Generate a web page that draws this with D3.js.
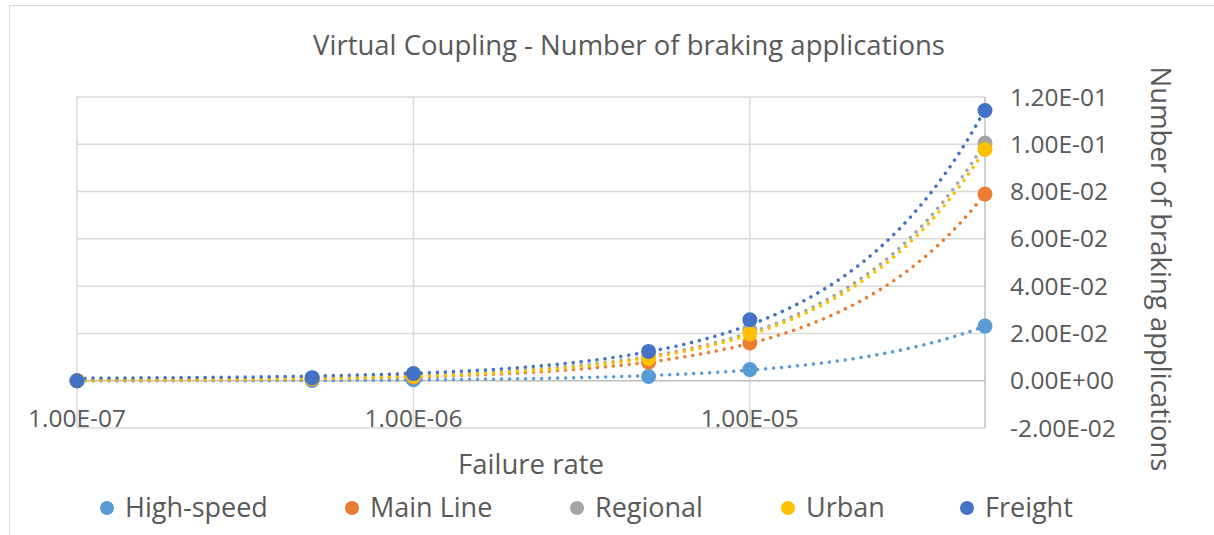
<!DOCTYPE html>
<html>
<head>
<meta charset="utf-8">
<script src="https://cdn.jsdelivr.net/npm/d3@7"></script>
<style>
  html, body { margin: 0; padding: 0; background: #fff; }
  svg { display: block; }
</style>
</head>
<body>
<svg id="chart" width="1214" height="535"></svg>
<script>
// Failure rates (x) and braking applications per category
const failureRates = [1e-7, 5e-7, 1e-6, 5e-6, 1e-5, 5e-5];
const seriesNames = ["High-speed", "Main Line", "Regional", "Urban", "Freight"];
const highSpeed = [0, 0.0001, 0.0004, 0.0018, 0.0047, 0.0231];
const mainLine  = [0, 0.0008, 0.0016, 0.0078, 0.0160, 0.0790];
const regional  = [0, 0.0010, 0.0020, 0.0100, 0.0215, 0.1005];
const urban     = [0, 0.0009, 0.0019, 0.0094, 0.0198, 0.0978];
const freight   = [0, 0.0013, 0.0030, 0.0124, 0.0258, 0.1143];
const xTicks = [1e-7, 1e-6, 1e-5];
const yTicks = [-0.02, 0, 0.02, 0.04, 0.06, 0.08, 0.10, 0.12];
const colors = ["#5B9BD5", "#ED7D31", "#A5A5A5", "#FFC000", "#4472C4"];

const series = [highSpeed, mainLine, regional, urban, freight].map((vals, i) => ({
  name: seriesNames[i], color: colors[i],
  points: vals.map((v, j) => ({ x: failureRates[j], y: v }))
}));

const svg = d3.select("#chart");
const font = "'Open Sans', 'DejaVu Sans', sans-serif";
const textColor = "#595959";

// Chart frame
svg.append("rect").attr("x", 9.5).attr("y", 5.5).attr("width", 1220).attr("height", 540)
  .attr("fill", "#fff").attr("stroke", "#d9d9d9").attr("stroke-width", 1);

const plot = { left: 77, right: 985, top: 97, bottom: 428 };
const x = d3.scaleLog().domain([1e-7, 5e-5]).range([plot.left, plot.right]);
const y = d3.scaleLinear().domain([-0.02, 0.12]).range([plot.bottom, plot.top]);

// Horizontal gridlines
svg.append("g").selectAll("line").data(yTicks.filter(d => d !== 0)).join("line")
  .attr("x1", plot.left).attr("x2", plot.right)
  .attr("y1", d => y(d)).attr("y2", d => y(d))
  .attr("stroke", "#d9d9d9").attr("stroke-width", 1.5);

// Vertical gridlines
svg.append("g").selectAll("line").data(xTicks).join("line")
  .attr("x1", d => x(d)).attr("x2", d => x(d))
  .attr("y1", plot.top).attr("y2", plot.bottom)
  .attr("stroke", "#d9d9d9").attr("stroke-width", 1.5);

// Horizontal axis crossing at zero
svg.append("line").attr("x1", plot.left).attr("x2", plot.right)
  .attr("y1", y(0)).attr("y2", y(0)).attr("stroke", "#bfbfbf").attr("stroke-width", 1.5);

// Vertical value axis on the right
svg.append("line").attr("x1", plot.right).attr("x2", plot.right)
  .attr("y1", plot.top).attr("y2", plot.bottom).attr("stroke", "#bfbfbf").attr("stroke-width", 1.5);

const fmtSci = d => {
  if (d === 0) return "0.00E+00";
  const e = Math.floor(Math.log10(Math.abs(d)) + 1e-9);
  const m = d / Math.pow(10, e);
  const es = (e < 0 ? "-" : "+") + String(Math.abs(e)).padStart(2, "0");
  return m.toFixed(2) + "E" + es;
};

// Y tick labels
svg.append("g").selectAll("text").data(yTicks).join("text")
  .attr("x", 1010).attr("y", d => y(d)).attr("dy", "0.35em")
  .attr("font-family", font).attr("font-size", 24.5).attr("fill", textColor)
  .text(fmtSci);

// X tick labels
svg.append("g").selectAll("text").data(xTicks).join("text")
  .attr("x", d => x(d)).attr("y", 418).attr("dy", "0.35em")
  .attr("text-anchor", "middle")
  .attr("font-family", font).attr("font-size", 24.5).attr("fill", textColor)
  .text(fmtSci);

// Linear least-squares trendline for each series
function linFit(pts) {
  const mx = d3.mean(pts, p => p.x), my = d3.mean(pts, p => p.y);
  const sxy = d3.sum(pts, p => (p.x - mx) * (p.y - my));
  const sxx = d3.sum(pts, p => (p.x - mx) ** 2);
  const b = sxy / sxx;
  return { a: my - b * mx, b };
}
const [x0, x1] = x.domain();
const samples = d3.range(0, 201).map(i => Math.pow(10, Math.log10(x0) + i / 200 * Math.log10(x1 / x0)));
const line = d3.line().x(d => x(d.x)).y(d => y(d.y));

series.forEach(s => {
  const f = linFit(s.points);
  const trend = samples.map(v => ({ x: v, y: f.a + f.b * v }));
  svg.append("path").datum(trend).attr("d", line)
    .attr("fill", "none").attr("stroke", s.color).attr("stroke-width", 3.5)
    .attr("stroke-linecap", "round").attr("stroke-dasharray", "0.01 8");
});

// Data markers
series.forEach(s => {
  svg.append("g").selectAll("circle").data(s.points).join("circle")
    .attr("cx", d => x(d.x)).attr("cy", d => y(d.y)).attr("r", 7.5)
    .attr("fill", s.color);
});

// Title
svg.append("text").attr("x", 629).attr("y", 55).attr("text-anchor", "middle")
  .attr("font-family", font).attr("font-size", 27.5).attr("fill", textColor)
  .text("Virtual Coupling - Number of braking applications");

// X axis title
svg.append("text").attr("x", 531).attr("y", 474).attr("text-anchor", "middle")
  .attr("font-family", font).attr("font-size", 27.5).attr("fill", textColor)
  .text("Failure rate");

// Y axis title (rotated, reading downward)
svg.append("text").attr("transform", "translate(1151,269) rotate(90)")
  .attr("text-anchor", "middle")
  .attr("font-family", font).attr("font-size", 27.5).attr("fill", textColor)
  .text("Number of braking applications");

// Legend
const legendX = [107, 352, 577, 788, 967];
const lg = svg.append("g").selectAll("g").data(series).join("g")
  .attr("transform", (d, i) => `translate(${legendX[i]},508)`);
lg.append("circle").attr("r", 7).attr("fill", d => d.color);
lg.append("text").attr("x", 18).attr("dy", "0.35em")
  .attr("font-family", font).attr("font-size", 27).attr("fill", textColor)
  .text(d => d.name);
</script>
</body>
</html>
